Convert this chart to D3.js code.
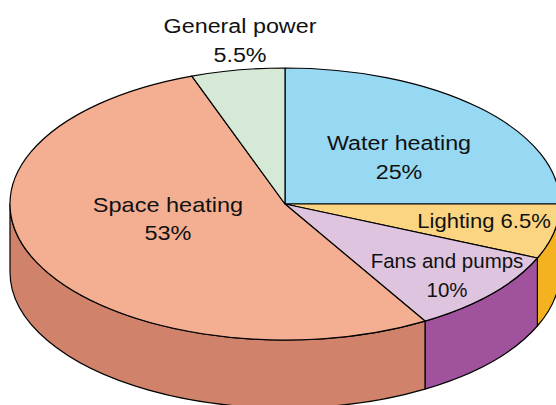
<!DOCTYPE html>
<html>
<head>
<meta charset="utf-8">
<script src="https://cdn.jsdelivr.net/npm/d3@7"></script>
<style>
  html, body { margin: 0; padding: 0; background: #ffffff; }
  svg { display: block; }
  text { font-family: "Liberation Sans", Arial, Helvetica, sans-serif; fill: #111; }
</style>
</head>
<body>
<svg id="chart" width="556" height="405"></svg>
<script>
// Energy use breakdown, in percent
const categories = ["Water heating", "Lighting", "Fans and pumps", "Space heating", "General power"];
const values = [25, 6.5, 10, 53, 5.5];
const valueLabels = ["25%", "6.5%", "10%", "53%", "5.5%"];

// Top face and side wall colours per slice
const topColors  = ["#97d8f3", "#fbd581", "#dfc4e0", "#f4af93", "#d6e9d6"];
const sideColors = ["#6cbfe0", "#f5b220", "#a0529d", "#d0836a", "#b5d3b5"];

// Disc geometry
const W = 556, H = 405;
const cx = 285, cy = 204, rx = 275, ry = 136, depth = 68;

// Label layout: offsets from the disc centre, baseline of first line, font size, horizontal stretch
const labelLayout = [
  { dx: 114, dy: -54, size: 21, sx: 1.11, lines: 2, gap: 29 },   // Water heating
  { dx: 199, dy: 24,  size: 21, sx: 1.05, lines: 1, gap: 0 },    // Lighting
  { dx: 162, dy: 64,  size: 20.5, sx: 1.0, lines: 2, gap: 28.5 },// Fans and pumps
  { dx: -117, dy: 8,  size: 21, sx: 1.12, lines: 2, gap: 28 },   // Space heating
  { dx: -45, dy: -171, size: 21, sx: 1.11, lines: 2, gap: 29 }   // General power
];

const svg = d3.select("#chart");
svg.append("rect").attr("width", W).attr("height", H).attr("fill", "#ffffff");

const pie = d3.pie().sort(null).value(d => d).startAngle(0).endAngle(2 * Math.PI);
const arcs = pie(values).map((a, i) => ({ ...a, i }));

// Angle measured clockwise from 12 o'clock, projected onto the tilted ellipse
const px = (t) => cx + rx * Math.sin(t);
const py = (t, z = 0) => cy - ry * Math.cos(t) + z;

// Side walls: only the front half (from 3 o'clock to 9 o'clock) is visible
const frontStart = Math.PI / 2, frontEnd = 3 * Math.PI / 2;
const sideG = svg.append("g");
arcs.forEach(a => {
  const a0 = Math.max(a.startAngle, frontStart);
  const a1 = Math.min(a.endAngle, frontEnd);
  if (a1 <= a0) return;
  const large = (a1 - a0) > Math.PI ? 1 : 0;
  const p = d3.path();
  p.moveTo(px(a0), py(a0));
  let d = `M${px(a0)},${py(a0)}`
    + ` A${rx},${ry} 0 ${large} 1 ${px(a1)},${py(a1)}`
    + ` L${px(a1)},${py(a1, depth)}`
    + ` A${rx},${ry} 0 ${large} 0 ${px(a0)},${py(a0, depth)} Z`;
  sideG.append("path")
    .attr("d", d)
    .attr("fill", sideColors[a.i])
    .attr("stroke", "#000")
    .attr("stroke-width", 1.2)
    .attr("stroke-linejoin", "round");
});

// Top faces
const topG = svg.append("g");
arcs.forEach(a => {
  const a0 = a.startAngle, a1 = a.endAngle;
  const large = (a1 - a0) > Math.PI ? 1 : 0;
  const d = `M${cx},${cy} L${px(a0)},${py(a0)}`
    + ` A${rx},${ry} 0 ${large} 1 ${px(a1)},${py(a1)} Z`;
  topG.append("path")
    .attr("d", d)
    .attr("fill", topColors[a.i])
    .attr("stroke", "#000")
    .attr("stroke-width", 1.2)
    .attr("stroke-linejoin", "round");
});

// Labels
const labelG = svg.append("g");
arcs.forEach(a => {
  const L = labelLayout[a.i];
  const lines = L.lines === 2
    ? [categories[a.i], valueLabels[a.i]]
    : [categories[a.i] + " " + valueLabels[a.i]];
  lines.forEach((txt, k) => {
    labelG.append("text")
      .attr("transform", `translate(${cx + L.dx},${cy + L.dy + k * L.gap}) scale(${L.sx},1)`)
      .attr("text-anchor", "middle")
      .attr("font-size", L.size)
      .text(txt);
  });
});
</script>
</body>
</html>
